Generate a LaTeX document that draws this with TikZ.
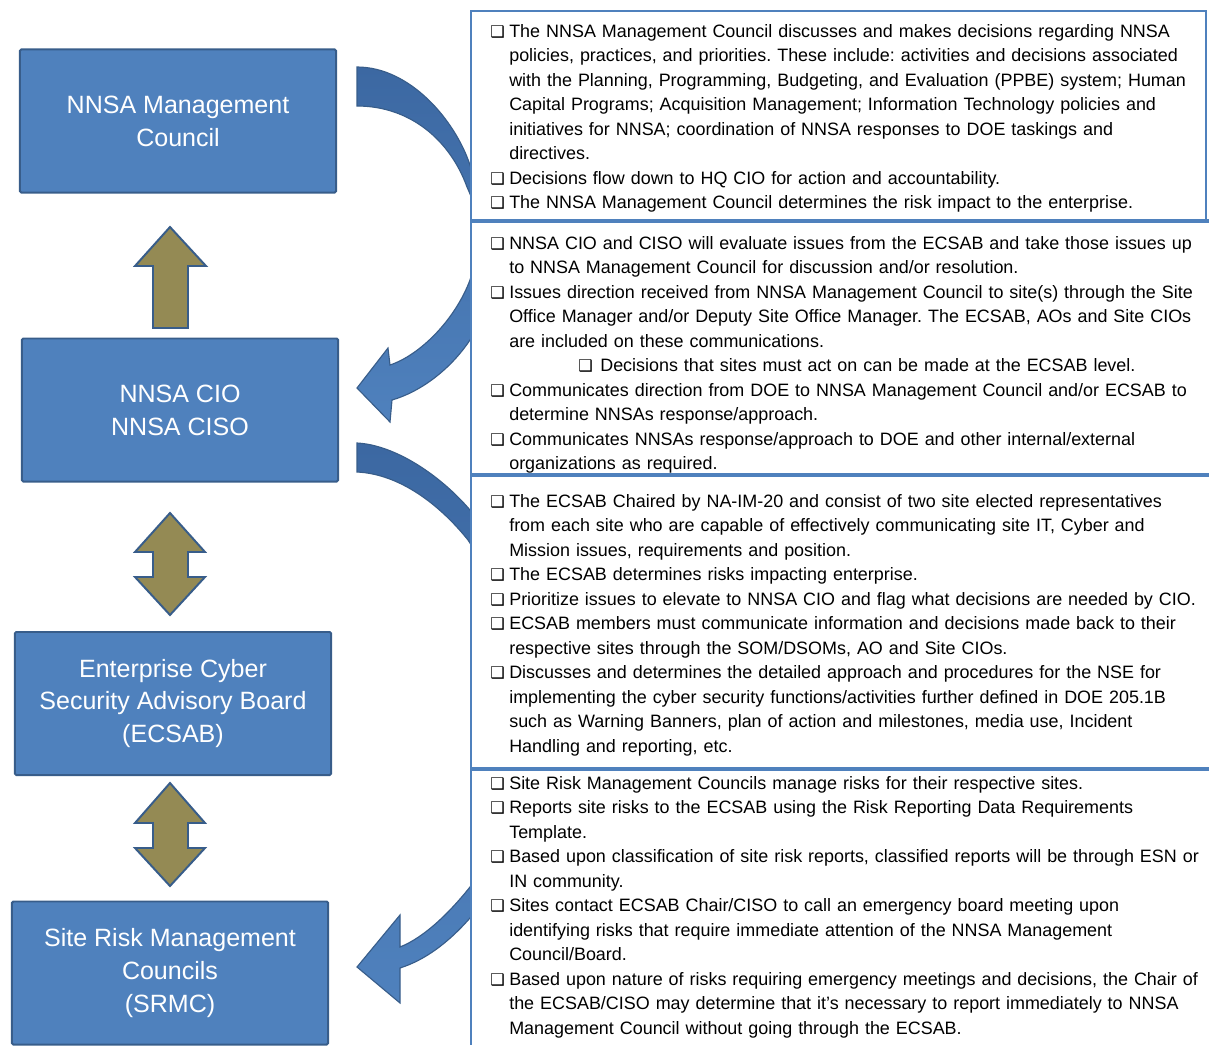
\documentclass[tikz,border=0pt]{standalone}
\usepackage{fontspec}
\setmainfont{Liberation Sans}
\newfontfamily\symfont{DejaVu Sans}
\usepackage{xcolor}
\usetikzlibrary{positioning}

\definecolor{boxblue}{HTML}{4F81BD}
\definecolor{boxedge}{HTML}{385D8A}
\definecolor{arrowdark}{HTML}{3C68A2}
\definecolor{olive}{HTML}{948A54}

\newcommand{\chk}{{\symfont\fontsize{11.5pt}{11pt}\selectfont ❑}}
\newcommand{\itm}{\par\hangindent=0.475cm\hangafter=1\noindent\makebox[0.475cm][l]{\chk}}
\newcommand{\subitm}{\par\noindent\hspace*{2.2cm}\makebox[0.55cm][l]{\chk}}

\begin{document}
\frenchspacing
\begin{tikzpicture}[x=0.025cm,y=-0.025cm]
    \tikzstyle{council} = [rectangle, rounded corners=1pt, minimum width=7.9cm, minimum height=3.575cm, draw=boxedge, line width=1.4pt, fill=boxblue, text=white, align=center, font=\fontsize{17.8pt}{23.4pt}\selectfont]
    \tikzstyle{flow} = [draw=boxedge, line width=1.4pt, fill=olive]
    \tikzstyle{curvearrow} = [draw=boxedge, line width=0.8pt, top color=arrowdark, bottom color=boxblue]
    \tikzstyle{notes} = [anchor=north west, inner sep=0pt, text width=18.6cm, font=\fontsize{12.75pt}{17.43pt}\selectfont]

    \useasboundingbox (0,0) rectangle (1209,1045);

    % curved arrows, partly behind the panel
    \draw [curvearrow] (357,67) .. controls (410,67) and (455,120) .. (470,165)
        .. controls (490,225) and (495,300) .. (470,340)
        .. controls (450,370) and (420,392) .. (392,400)
        -- (390,422) -- (357,388) -- (388,348) -- (390,365)
        .. controls (420,355) and (455,320) .. (470,280)
        .. controls (482,240) and (480,215) .. (467,187)
        .. controls (450,140) and (410,106) .. (357,106) -- cycle;
    \draw [curvearrow] (357,443) .. controls (395,445) and (440,475) .. (470,510)
        .. controls (540,590) and (545,830) .. (470,918)
        .. controls (448,943) and (425,960) .. (400,968)
        -- (400,1003) -- (357,967) -- (400,915) -- (400,947)
        .. controls (425,937) and (450,912) .. (470,887)
        .. controls (520,820) and (515,610) .. (468,540)
        .. controls (440,505) and (400,474) .. (357,472) -- cycle;

    % panel
    \fill [white] (471,11) rectangle (1209,1045);
    \draw [boxblue, line width=2pt] (1206,221) -- (1206,11) -- (471,11) -- (471,1045);
    \foreach \y in {221,475,769}
        \draw [boxblue, line width=3pt] (471,\y) -- (1209,\y);

    \node (mgmt) [council] at (178,121) {NNSA Management\\Council};
    \node (cio) [council] at (180,410) {NNSA CIO\\NNSA CISO};
    \node (ecsab) [council] at (173,703.5) {Enterprise Cyber\\Security Advisory Board\\(ECSAB)};
    \node (srmc) [council] at (170,973) {Site Risk Management\\Councils\\(SRMC)};

    % block arrows between the boxes
    \draw [flow] (170,227) -- (206,266) -- (188,266) -- (188,328) -- (153,328) -- (153,266) -- (135,266) -- cycle;
    \draw [flow] (170,513) -- (205,552) -- (188,552) -- (188,577) -- (205,577) -- (170,615) -- (135,577) -- (153,577) -- (153,552) -- (135,552) -- cycle;
    \draw [flow] (170,783) -- (205,823) -- (188,823) -- (188,848) -- (205,848) -- (170,886) -- (135,848) -- (153,848) -- (153,823) -- (135,823) -- cycle;

    \node (noteA) [notes] at (490,12.5) {\raggedright
        \itm The NNSA Management Council discusses and makes decisions regarding NNSA\newline
        policies, practices, and priorities. These include: activities and decisions associated\newline
        with the Planning, Programming, Budgeting, and Evaluation (PPBE) system; Human\newline
        Capital Programs; Acquisition Management; Information Technology policies and\newline
        initiatives for NNSA; coordination of NNSA responses to DOE taskings and\newline
        directives.
        \itm Decisions flow down to HQ CIO for action and accountability.
        \itm The NNSA Management Council determines the risk impact to the enterprise.\par};
    \node (noteB) [notes] at (490,224.5) {\raggedright
        \itm NNSA CIO and CISO will evaluate issues from the ECSAB and take those issues up\newline
        to NNSA Management Council for discussion and/or resolution.
        \itm Issues direction received from NNSA Management Council to site(s) through the Site\newline
        Office Manager and/or Deputy Site Office Manager. The ECSAB, AOs and Site CIOs\newline
        are included on these communications.
        \subitm Decisions that sites must act on can be made at the ECSAB level.
        \itm Communicates direction from DOE to NNSA Management Council and/or ECSAB to\newline
        determine NNSAs response/approach.
        \itm Communicates NNSAs response/approach to DOE and other internal/external\newline
        organizations as required.\par};
    \node (noteC) [notes] at (490,482.5) {\raggedright
        \itm The ECSAB Chaired by NA-IM-20 and consist of two site elected representatives\newline
        from each site who are capable of effectively communicating site IT, Cyber and\newline
        Mission issues, requirements and position.
        \itm The ECSAB determines risks impacting enterprise.
        \itm Prioritize issues to elevate to NNSA CIO and flag what decisions are needed by CIO.
        \itm ECSAB members must communicate information and decisions made back to their\newline
        respective sites through the SOM/DSOMs, AO and Site CIOs.
        \itm Discusses and determines the detailed approach and procedures for the NSE for\newline
        implementing the cyber security functions/activities further defined in DOE 205.1B\newline
        such as Warning Banners, plan of action and milestones, media use, Incident\newline
        Handling and reporting, etc.\par};
    \node (noteD) [notes] at (490,764.5) {\raggedright
        \itm Site Risk Management Councils manage risks for their respective sites.
        \itm Reports site risks to the ECSAB using the Risk Reporting Data Requirements\newline
        Template.
        \itm Based upon classification of site risk reports, classified reports will be through ESN or\newline
        IN community.
        \itm Sites contact ECSAB Chair/CISO to call an emergency board meeting upon\newline
        identifying risks that require immediate attention of the NNSA Management\newline
        Council/Board.
        \itm Based upon nature of risks requiring emergency meetings and decisions, the Chair of\newline
        the ECSAB/CISO may determine that it's necessary to report immediately to NNSA\newline
        Management Council without going through the ECSAB.\par};
\end{tikzpicture}
\end{document}
